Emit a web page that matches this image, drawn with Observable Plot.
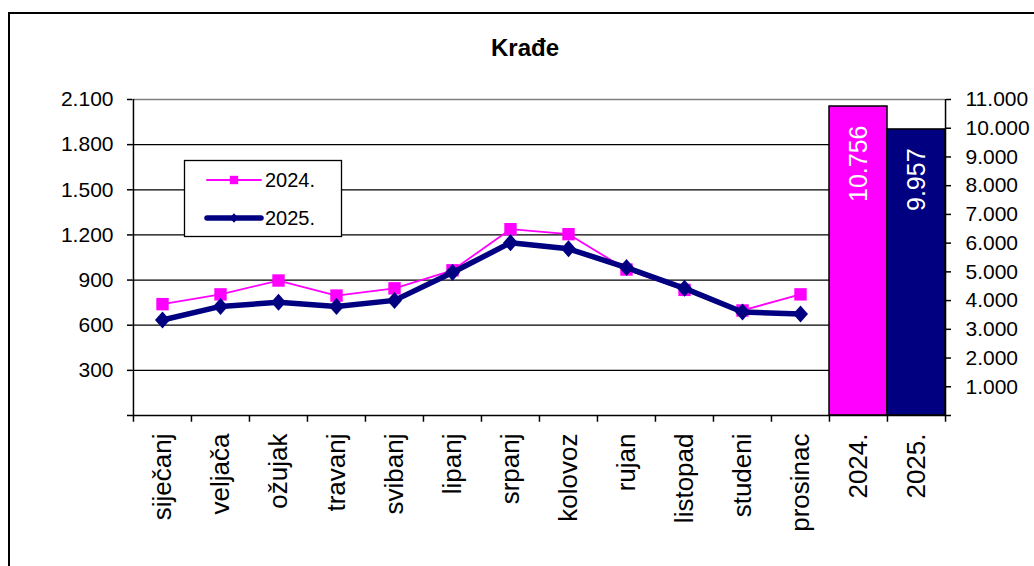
<!DOCTYPE html>
<html><head><meta charset="utf-8">
<script src="https://cdn.jsdelivr.net/npm/d3@7"></script>
<script src="https://cdn.jsdelivr.net/npm/@observablehq/plot@0.6"></script>
<style>body{margin:0;background:#fff}svg{display:block}</style>
</head><body><div id="chart"></div>
<script>
const title = "Krađe";
const months = ["siječanj","veljača","ožujak","travanj","svibanj","lipanj","srpanj","kolovoz","rujan","listopad","studeni","prosinac"];
const v2024 = [740, 805, 897, 797, 845, 965, 1238, 1205, 970, 835, 698, 805];
const v2025 = [635, 725, 752, 725, 765, 950, 1148, 1108, 983, 845, 688, 675];
const seriesNames = ["2024.", "2025."];
const totals = [10756, 9957];
const leftTicks = [0, 300, 600, 900, 1200, 1500, 1800, 2100];
const rightTicks = [0, 1000, 2000, 3000, 4000, 5000, 6000, 7000, 8000, 9000, 10000, 11000];
const colors = ["#ff00ff", "#000080"];

const fmt = d3.formatLocale({decimal: ",", thousands: ".", grouping: [3], currency: ["", ""]}).format(",d");
const leftMax = 2100, rightMax = 11000, k = leftMax / rightMax;
const cats = [...months, ...seriesNames];
const d24 = months.map((m, i) => ({month: m, value: v2024[i]}));
const d25 = months.map((m, i) => ({month: m, value: v2025[i]}));
const barData = seriesNames.map((s, i) => ({cat: s, total: totals[i], color: colors[i]}));

const W = 1034, H = 566, mL = 132, mR = 89, mT = 99, mB = 151;
const half = (W - mL - mR) / cats.length / 2;
const diamondSym = {draw(ctx, size) { const s = Math.sqrt(size), h = s * 0.75, w = s * 0.66;
  ctx.moveTo(0, -h); ctx.lineTo(w, 0); ctx.lineTo(0, h); ctx.lineTo(-w, 0); ctx.closePath(); }};
const tickLen = 45; // value units below zero for x ticks

const chart = Plot.plot({
  width: W, height: H, marginLeft: mL, marginRight: mR, marginTop: mT, marginBottom: mB,
  style: {fontFamily: "'Liberation Sans', Arial, sans-serif", color: "#000", background: "#fff", overflow: "visible"},
  x: {type: "band", domain: cats, padding: 0, axis: null},
  y: {domain: [0, leftMax], axis: null},
  color: {type: "identity"},
  marks: [
    Plot.ruleY(leftTicks.filter(d => d > 0 && d < leftMax), {stroke: "#000", strokeWidth: 1.3}),
    Plot.ruleY([leftMax], {stroke: "#808080", strokeWidth: 1.5}),
    Plot.barY(barData, {x: "cat", y: d => d.total * k, fill: "color", stroke: "#000", strokeWidth: 1.5}),
    Plot.text(barData, {x: "cat", y: d => d.total * k, text: d => fmt(d.total), rotate: -90, textAnchor: "end", lineAnchor: "middle", dy: 19, fill: "#fff", fontSize: 25}),
    Plot.ruleY([0], {stroke: "#000", strokeWidth: 1.5}),
    Plot.ruleX([cats[0]], {dx: -half, y1: 0, y2: leftMax, stroke: "#000", strokeWidth: 1.5}),
    Plot.ruleX([cats[cats.length - 1]], {dx: half, y1: -tickLen, y2: leftMax, stroke: "#000", strokeWidth: 1.5}),
    Plot.ruleX(cats, {dx: -half, y1: 0, y2: -tickLen, stroke: "#000", strokeWidth: 1.5}),
    Plot.axisY(leftTicks, {anchor: "left", label: null, tickSize: 5, tickPadding: 14, strokeWidth: 1.5, tickFormat: d => d === 0 ? "" : fmt(d), fontSize: 21}),
    Plot.axisY(rightTicks.map(d => d * k), {anchor: "right", label: null, tickSize: 5, tickPadding: 15, strokeWidth: 1.5, textAnchor: "start", tickFormat: v => { const d = Math.round(v / k); return d === 0 ? "" : fmt(d); }, fontSize: 21}),
    Plot.axisX(cats, {anchor: "bottom", label: null, tickSize: 0, tickPadding: 18, tickRotate: -90, textAnchor: "end", lineAnchor: "middle", fontSize: 26}),
    Plot.line(d24, {x: "month", y: "value", stroke: colors[0], strokeWidth: 1.8}),
    Plot.dot(d24, {x: "month", y: "value", symbol: "square", r: 7, fill: colors[0], stroke: "none"}),
    Plot.line(d25, {x: "month", y: "value", stroke: colors[1], strokeWidth: 5.5}),
    Plot.dot(d25, {x: "month", y: "value", symbol: diamondSym, r: 6.4, fill: colors[1], stroke: "none"}),
    Plot.text([title], {frameAnchor: "top", dx: -14, dy: -51, fontSize: 24, fontWeight: "bold", lineAnchor: "middle"})
  ]
});

const svg = d3.select(chart);
// outer chart border
svg.append("path").attr("d", "M9,566V13H1034").attr("fill", "none").attr("stroke", "#000").attr("stroke-width", 2);
// legend
const lg = svg.append("g").attr("font-family", "'Liberation Sans', Arial, sans-serif").attr("font-size", 20).attr("text-anchor", "start");
lg.append("rect").attr("x", 184.5).attr("y", 160.5).attr("width", 157).attr("height", 76).attr("fill", "#fff").attr("stroke", "#000").attr("stroke-width", 1.3);
const rows = [
  {name: seriesNames[0], color: colors[0], w: 1.8, y: 180, sym: d3.symbolSquare, size: 70},
  {name: seriesNames[1], color: colors[1], w: 5.5, y: 218, sym: diamondSym, size: 40}
];
rows.forEach(r => {
  lg.append("line").attr("x1", 207).attr("x2", 261).attr("y1", r.y).attr("y2", r.y).attr("stroke", r.color).attr("stroke-width", r.w).attr("stroke-linecap", "round");
  lg.append("path").attr("d", d3.symbol(r.sym, r.size)()).attr("transform", `translate(234,${r.y})`).attr("fill", r.color);
  lg.append("text").attr("x", 265).attr("y", r.y).attr("dy", "0.35em").attr("text-anchor", "start").attr("fill", "#000").text(r.name);
});

document.getElementById("chart").append(chart);
</script>
</body></html>
